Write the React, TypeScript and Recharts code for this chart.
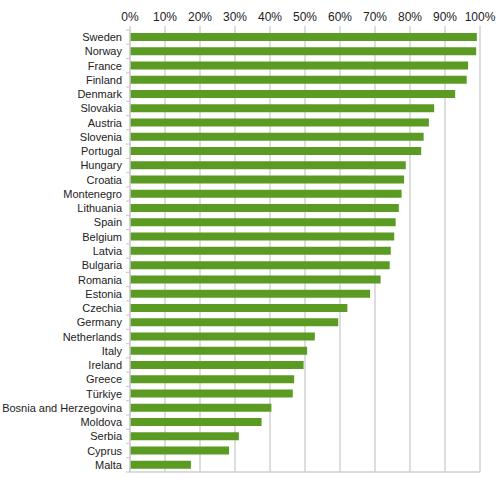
import React from 'react'
import { BarChart, Bar, XAxis, YAxis, CartesianGrid } from 'recharts'

const countries = [
  'Sweden', 'Norway', 'France', 'Finland', 'Denmark', 'Slovakia', 'Austria', 'Slovenia',
  'Portugal', 'Hungary', 'Croatia', 'Montenegro', 'Lithuania', 'Spain', 'Belgium', 'Latvia',
  'Bulgaria', 'Romania', 'Estonia', 'Czechia', 'Germany', 'Netherlands', 'Italy', 'Ireland',
  'Greece', 'Türkiye', 'Bosnia and Herzegovina', 'Moldova', 'Serbia', 'Cyprus', 'Malta',
]

const shares = [
  0.991, 0.989, 0.966, 0.962, 0.929, 0.869, 0.854, 0.839,
  0.832, 0.788, 0.783, 0.776, 0.768, 0.759, 0.755, 0.745,
  0.742, 0.716, 0.686, 0.621, 0.595, 0.528, 0.506, 0.496,
  0.469, 0.465, 0.404, 0.376, 0.311, 0.283, 0.174,
]

const percentTicks = [0, 0.1, 0.2, 0.3, 0.4, 0.5, 0.6, 0.7, 0.8, 0.9, 1]

const data = countries.map((name, i) => ({ name, value: shares[i] }))

const FONT = '"Liberation Sans", Arial, sans-serif'
const GRID = '#cfcfcf'
const AXIS_W = 130

// category label plus Excel-style tick mark between categories
function CategoryTick(props: any) {
  const { y, payload, band } = props
  const half = band / 2
  return (
    <g>
      <text x={AXIS_W - 8} y={y} dy={4} textAnchor="end" fontSize={11} fill="#222" fontFamily={FONT}>
        {payload.value}
      </text>
      <line x1={AXIS_W - 4} x2={AXIS_W} y1={y - half} y2={y - half} stroke={GRID} strokeWidth={1.2} />
      {payload.index === countries.length - 1 && (
        <line x1={AXIS_W - 4} x2={AXIS_W} y1={y + half} y2={y + half} stroke={GRID} strokeWidth={1.2} />
      )}
    </g>
  )
}

export default function App() {
  const width = 500
  const height = 477
  const top = 30
  const bottom = 5
  const band = (height - top - bottom) / countries.length
  return (
    <div style={{ position: 'absolute', left: 0, top: 0, background: '#fff' }}>
      <BarChart
        width={width}
        height={height}
        data={data}
        layout="vertical"
        margin={{ top: 0, right: 20, bottom: bottom, left: 0 }}
        barSize={8}
      >
        <CartesianGrid
          stroke={GRID}
          strokeWidth={1.4}
          horizontalCoordinatesGenerator={({ offset }: any) => [offset.top + offset.height]}
        />
        <XAxis
          type="number"
          orientation="top"
          domain={[0, 1]}
          ticks={percentTicks}
          tickFormatter={(v: number) => `${Math.round(v * 100)}%`}
          height={top}
          axisLine={false}
          tickLine={{ stroke: GRID, strokeWidth: 1.4 }}
          tickSize={4}
          tickMargin={5}
          tick={{ fontSize: 12, fill: '#222', fontFamily: FONT }}
          interval={0}
        />
        <YAxis
          type="category"
          dataKey="name"
          width={AXIS_W}
          axisLine={{ stroke: GRID, strokeWidth: 1.4 }}
          tickLine={false}
          interval={0}
          tick={<CategoryTick band={band} />}
        />
        <Bar dataKey="value" fill="#5b9b23" isAnimationActive={false} />
      </BarChart>
    </div>
  )
}
